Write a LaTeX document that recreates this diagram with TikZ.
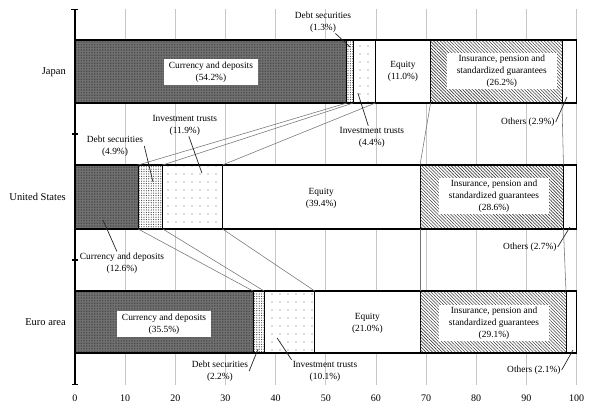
\documentclass[tikz,border=0pt]{standalone}
\usepackage{fontspec}
\setmainfont{Liberation Serif}
\usepackage{tikz}
\usetikzlibrary{patterns.meta}
\usetikzlibrary{arrows.meta}
\newcommand{\lblfont}{\fontsize{9.4}{12}\selectfont}
\newcommand{\ctryfont}{\fontsize{10.5}{12}\selectfont}
\newcommand{\tickfont}{\fontsize{10}{12}\selectfont}
\tikzstyle{gridline}=[draw=black!22,line width=0.6pt]
\tikzstyle{link}=[draw=black!55,line width=0.55pt]
\tikzstyle{seg}=[draw=black,line width=0.9pt]
\tikzstyle{bar}=[draw=black,line width=1.3pt]
\tikzstyle{leader}=[draw=black!85,line width=0.7pt]
\tikzstyle{axisline}=[draw=black,line width=2.4pt,arrows={Bar[width=7pt,line width=1.4pt]-Bar[width=6pt,line width=1.4pt]}]
\tikzstyle{axistick}=[draw=black,line width=1.2pt]
\tikzstyle{cur}=[fill=black!55,postaction={pattern={Dots[distance=1.6pt,radius=0.35pt]},pattern color=black!85}]
\tikzstyle{debt}=[fill=white,postaction={pattern={Dots[distance=2.4pt,radius=0.6pt]},pattern color=black!75}]
\tikzstyle{inv}=[fill=white,postaction={pattern={Dots[distance=8pt,radius=0.7pt]},pattern color=black!60}]
\tikzstyle{eq}=[fill=white]
\tikzstyle{ins}=[fill=white,postaction={pattern={Lines[angle=-45,distance=2.3pt,line width=0.6pt]},pattern color=black!75}]
\tikzstyle{oth}=[fill=white]
\tikzstyle{lbl}=[align=center,font=\lblfont,inner sep=1pt]
\tikzstyle{box}=[lbl,fill=white,inner xsep=5pt,inner ysep=2.5pt]
\tikzstyle{insbox}=[lbl,fill=white,inner xsep=10pt,inner ysep=2pt]
\tikzstyle{country}=[anchor=east,font=\ctryfont,inner sep=0pt]
\tikzstyle{ticklbl}=[font=\tickfont,inner sep=0pt]

\begin{document}
\begin{tikzpicture}[x=5.015pt,y=-1pt]

 \useasboundingbox (-14.955,0) rectangle (104.686,414);

 %grid
 \foreach \x in {10,20,...,100}
   \path[gridline] (\x,9) -- (\x,385);

 %Japan
  \def\dy{40};
  \def\h{63};

  \foreach \a/\b/\kind/\name in {0/54.2/cur/jc, 54.2/55.5/debt/jd, 55.5/59.9/inv/ji, 59.9/70.9/eq/je, 70.9/97.1/ins/jn, 97.1/100/oth/jo}
    {\path[\kind,seg] (\a,\dy) rectangle (\b,\dy+\h);
     \coordinate (\name t) at (\b,\dy);
     \coordinate (\name b) at (\b,\dy+\h);}

  \path[bar] (0,\dy) rectangle (100,\dy+\h);

 %United States
  \def\dy{165};
  \def\h{64};

  \foreach \a/\b/\kind/\name in {0/12.6/cur/uc, 12.6/17.5/debt/ud, 17.5/29.4/inv/ui, 29.4/68.8/eq/ue, 68.8/97.4/ins/un, 97.4/100/oth/uo}
    {\path[\kind,seg] (\a,\dy) rectangle (\b,\dy+\h);
     \coordinate (\name t) at (\b,\dy);
     \coordinate (\name b) at (\b,\dy+\h);}

  \path[bar] (0,\dy) rectangle (100,\dy+\h);

 %Euro area
  \def\dy{291};
  \def\h{62};

  \foreach \a/\b/\kind/\name in {0/35.5/cur/ec, 35.5/37.7/debt/ed, 37.7/47.8/inv/ei, 47.8/68.8/eq/ee, 68.8/97.9/ins/en, 97.9/100/oth/eo}
    {\path[\kind,seg] (\a,\dy) rectangle (\b,\dy+\h);
     \coordinate (\name t) at (\b,\dy);
     \coordinate (\name b) at (\b,\dy+\h);}

  \path[bar] (0,\dy) rectangle (100,\dy+\h);

 %links between bars
  \foreach \source/\dest in {jcb/uct, jdb/udt, jib/uit, jeb/uet, jnb/unt, ucb/ect, udb/edt, uib/eit, ueb/eet, unb/ent}
    \path[link] (\source) -- (\dest);

 %labels
  \foreach \x/\y/\name/\kind/\label in {27.1/72/jcl/box/{Currency and deposits\\(54.2\%)}, 49.45/22/jdl/lbl/{Debt securities\\(1.3\%)}, 59.2/137/jil/lbl/{Investment trusts\\(4.4\%)}, 65.4/71/jel/lbl/{Equity\\(11.0\%)}, 85.1/71/jnl/insbox/{Insurance, pension and\\standardized guarantees\\(26.2\%)}, 90.3/122/jol/lbl/{Others (2.9\%)}}
    \node[\kind] (\name) at (\x,\y) {\label};

  \foreach \x/\y/\name/\kind/\label in {9.37/263/ucl/lbl/{Currency and deposits\\(12.6\%)}, 7.98/146/udl/lbl/{Debt securities\\(4.9\%)}, 21.9/125/uil/lbl/{Investment trusts\\(11.9\%)}, 49.1/198/uel/lbl/{Equity\\(39.4\%)}, 83.55/196/unl/insbox/{Insurance, pension and\\standardized guarantees\\(28.6\%)}, 90.7/247/uol/lbl/{Others (2.7\%)}}
    \node[\kind] (\name) at (\x,\y) {\label};

  \foreach \x/\y/\name/\kind/\label in {17.75/324/ecl/box/{Currency and deposits\\(35.5\%)}, 28.9/371/edl/lbl/{Debt securities\\(2.2\%)}, 49.85/371/eil/lbl/{Investment trusts\\(10.1\%)}, 58.3/323/eel/lbl/{Equity\\(21.0\%)}, 83.55/323/enl/insbox/{Insurance, pension and\\standardized guarantees\\(29.1\%)}, 91.5/370/eol/lbl/{Others (2.1\%)}}
    \node[\kind] (\name) at (\x,\y) {\label};

 %leader targets
  \foreach \x/\y/\name in {54.85/47/jdp, 56.4/93/jip, 98.1/97/jop, 5.58/220/ucp, 15.55/182/udp, 25.3/173/uip, 98.7/227/uop, 36.5/349/edp, 40.3/338/eip, 99.3/350/eop}
    \coordinate (\name) at (\x,\y);

  \foreach \source/\dest in {jdl/jdp, jil/jip, jol.east/jop, ucl/ucp, udl.east/udp, uil/uip, uol.east/uop, edl.east/edp, eil.north west/eip, eol.east/eop}
    \path[leader] (\source) -- (\dest);

 %countries
  \foreach \y/\name/\label in {72/cj/Japan, 197/cu/United States, 322/ce/Euro area}
    \node[country] (\name) at (-1.8,\y) {\label};

 %axis
  \path[axisline] (0,9) -- (0,385);
  \foreach \y in {134,260}
    \path[axistick] (-0.5,\y) -- (0.5,\y);

  \foreach \x in {0,10,...,100}
    \node[ticklbl] (t\x) at (\x,398) {\x};

\end{tikzpicture}
\end{document}
